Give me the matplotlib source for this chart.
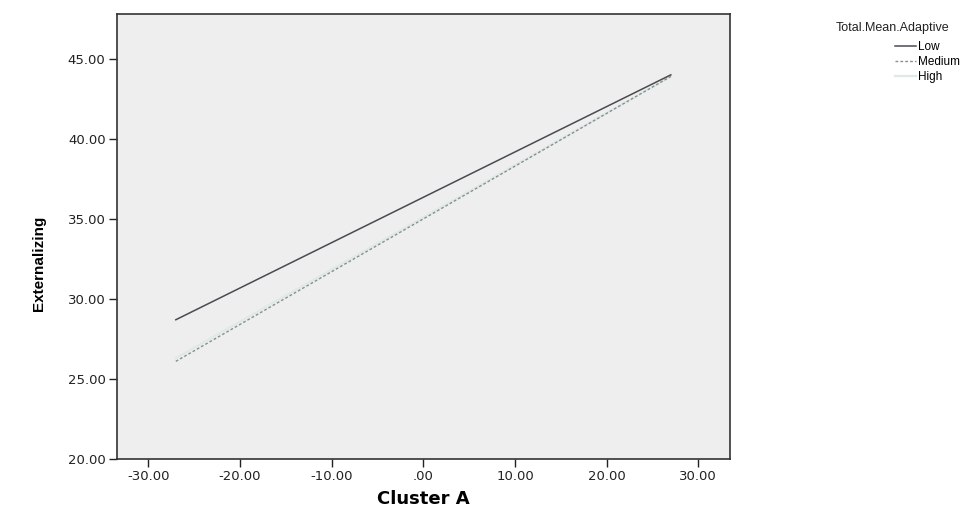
import matplotlib.pyplot as plt

# Fitted lines of Externalizing on Cluster A, per adaptive group
groups = ['Low', 'Medium', 'High']
x_start = [-27.0, -27.0, -27.0]
x_end = [27.0, 27.0, 27.0]
y_start = [28.7, 26.1, 26.3]
y_end = [44.0, 43.9, 43.9]

x_ticks = [-30, -20, -10, 0, 10, 20, 30]
x_ticklabels = ['-30.00', '-20.00', '-10.00', '.00', '10.00', '20.00', '30.00']
y_ticks = [20, 25, 30, 35, 40, 45]
y_ticklabels = ['20.00', '25.00', '30.00', '35.00', '40.00', '45.00']

styles = {
    'Low': dict(color='#4a4a52', linestyle='-', linewidth=1.1),
    'Medium': dict(color='#8a8f8c', linestyle=(0, (2, 1.5)), linewidth=1.0),
    'High': dict(color='#dfeae6', linestyle='-', linewidth=1.6),
}

plt.rcParams['font.family'] = ['Liberation Sans', 'DejaVu Sans']

fig = plt.figure(figsize=(9.61, 5.15), dpi=100)
ax = fig.add_axes([0.1214, 0.1087, 0.6382, 0.8641])
ax.set_facecolor('#eeeeee')

# draw High first so the darker lines sit on top
for g in ['High', 'Medium', 'Low']:
    i = groups.index(g)
    ax.plot([x_start[i], x_end[i]], [y_start[i], y_end[i]], label=g, **styles[g])

ax.set_xlim(-33.45, 33.45)
ax.set_ylim(20, 47.8)
ax.set_xticks(x_ticks)
ax.set_xticklabels(x_ticklabels, family='DejaVu Sans')
ax.set_yticks(y_ticks)
ax.set_yticklabels(y_ticklabels, family='DejaVu Sans')
ax.tick_params(axis='both', direction='out', length=6, width=1.0,
               labelsize=9.5, colors='#222222', pad=2)

for s in ax.spines.values():
    s.set_color('#333333')
    s.set_linewidth(1.2)

ax.set_xlabel('Cluster A', fontsize=13, fontweight='bold', labelpad=5,
              family='DejaVu Sans')
ax.set_ylabel('Externalizing', fontsize=11, fontweight='bold',
              family=['Liberation Sans Narrow', 'Liberation Sans'])
ax.yaxis.set_label_coords(-0.115, 0.44)

# legend: title on its own, entries indented below it
fig.text(836 / 961, 1 - 28 / 515, 'Total.Mean.Adaptive', fontsize=9,
         ha='left', va='center', color='#222222')
handles, labels = ax.get_legend_handles_labels()
order = [labels.index(g) for g in groups]
fig.legend([handles[k] for k in order], [labels[k] for k in order],
           loc='upper left', bbox_to_anchor=(895 / 961, 1 - 41 / 515),
           frameon=False, fontsize=8.5, handlelength=1.8,
           handletextpad=0.15, labelspacing=0.25, borderpad=0.0,
           borderaxespad=0.0)

fig.savefig('out.png', dpi=100)
